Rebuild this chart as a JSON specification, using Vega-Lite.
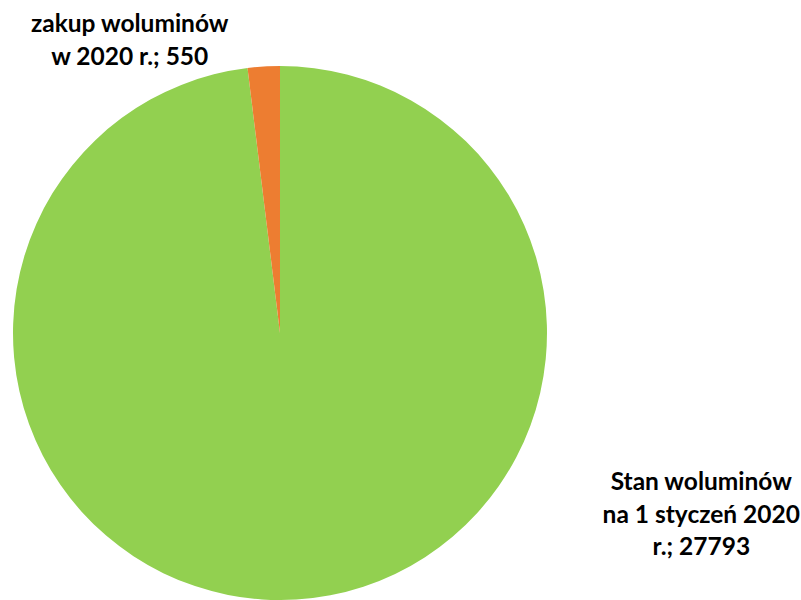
{
  "$schema": "https://vega.github.io/schema/vega-lite/v6.json",
  "width": 560,
  "height": 534,
  "autosize": {"type": "none"},
  "padding": {"left": 0, "top": 66, "right": 241, "bottom": 0},
  "background": "white",
  "view": {"stroke": null},
  "data": {
    "values": [
      {"kategoria": "Stan woluminów na 1 styczeń 2020 r.", "wartosc": 27793, "kolejnosc": 1, "etykieta": "Stan woluminów\nna 1 styczeń 2020\nr.; 27793"},
      {"kategoria": "zakup woluminów w 2020 r.", "wartosc": 550, "kolejnosc": 2, "etykieta": "zakup woluminów\nw 2020 r.; 550"}
    ]
  },
  "encoding": {
    "theta": {"field": "wartosc", "type": "quantitative", "stack": true},
    "order": {"field": "kolejnosc", "type": "quantitative"}
  },
  "layer": [
    {
      "mark": {"type": "arc", "stroke": null},
      "encoding": {
        "color": {
          "field": "kategoria",
          "type": "nominal",
          "scale": {
            "domain": ["Stan woluminów na 1 styczeń 2020 r.", "zakup woluminów w 2020 r."],
            "range": ["#92D050", "#ED7D31"]
          },
          "legend": null
        }
      }
    },
    {
      "mark": {"type": "text", "radius": 300, "dx": -132, "dy": -9, "align": "center", "baseline": "middle", "lineBreak": "\n", "lineHeight": 33, "font": "Lato", "fontWeight": "bold", "fontSize": 24.5, "color": "#000000"},
      "encoding": {
        "text": {"condition": {"test": "datum.kolejnosc == 2", "field": "etykieta"}, "value": ""}
      }
    },
    {
      "mark": {"type": "text", "radius": 300, "dx": 403, "dy": -149, "align": "center", "baseline": "middle", "lineBreak": "\n", "lineHeight": 32.5, "font": "Lato", "fontWeight": "bold", "fontSize": 24.5, "color": "#000000"},
      "encoding": {
        "text": {"condition": {"test": "datum.kolejnosc == 1", "field": "etykieta"}, "value": ""}
      }
    }
  ]
}
